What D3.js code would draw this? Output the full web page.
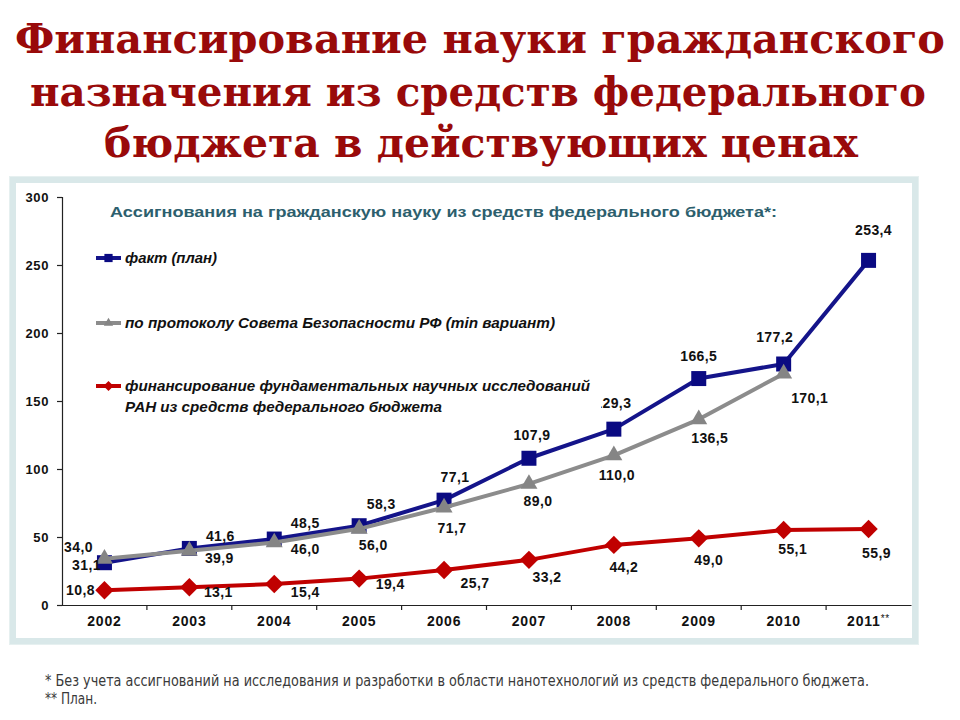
<!DOCTYPE html>
<html><head><meta charset="utf-8">
<script src="https://cdn.jsdelivr.net/npm/d3@7"></script>
<style>
html,body{margin:0;padding:0;background:#fff;}
svg{display:block;}
</style></head>
<body>
<svg id="c" width="960" height="720"></svg>
<script>
// ---- data ----
const years = ["2002","2003","2004","2005","2006","2007","2008","2009","2010","2011"];
const yearLabels = ["2002","2003","2004","2005","2006","2007","2008","2009","2010","2011**"];
const factPlan = [31.1, 41.6, 48.5, 58.3, 77.1, 107.9, 129.3, 166.5, 177.2, 253.4];
const securityCouncil = [34.0, 39.9, 46.0, 56.0, 71.7, 89.0, 110.0, 136.5, 170.1, null];
const ranFunding = [10.8, 13.1, 15.4, 19.4, 25.7, 33.2, 44.2, 49.0, 55.1, 55.9];
const yTicks = [0, 50, 100, 150, 200, 250, 300];
const seriesNames = ["факт (план)", "по протоколу  Совета Безопасности  РФ (min вариант)", "финансирование  фундаментальных  научных  исследований"];
const seriesName3b = "РАН из средств  федерального  бюджета";
const titleLines = ["Финансирование науки гражданского", "назначения из средств федерального", "бюджета в действующих ценах"];
const subtitle = "Ассигнования на гражданскую науку из средств федерального бюджета*:";
const notes = ["*  Без учета ассигнований на исследования и разработки в области нанотехнологий  из средств федерального  бюджета.", "** План."];

// ---- drawing ----
const svg = d3.select("#c");
const fmt = v => d3.format(".1f")(v).replace(".", ",");

// title
const titleLayout = [{x0:15,x1:945,y:53},{x0:30,x1:926,y:106},{x0:104,x1:858,y:157}];
svg.append("g").selectAll("text").data(titleLines).join("text")
  .attr("x", (d,i)=>titleLayout[i].x0)
  .attr("y", (d,i)=>titleLayout[i].y)
  .attr("textLength", (d,i)=>titleLayout[i].x1-titleLayout[i].x0)
  .attr("lengthAdjust","spacingAndGlyphs")
  .attr("font-family","'DejaVu Serif', 'Liberation Serif', serif")
  .attr("font-weight","bold")
  .attr("font-size",41)
  .attr("fill","#990a0a")
  .text(d=>d);

// panel
svg.append("rect").attr("x",9).attr("y",176).attr("width",910).attr("height",469).attr("fill","#e6f0f0");
svg.append("rect").attr("x",10).attr("y",177).attr("width",908).attr("height",467).attr("fill","#d9e8e9");
svg.append("rect").attr("x",16).attr("y",183).attr("width",896).attr("height",455).attr("fill","#ffffff");

const x = d3.scaleBand().domain(years).range([62, 911]);
const y = d3.scaleLinear().domain([0, 300]).range([605, 197]);
const cx = d => x(d) + x.bandwidth()/2;

// y axis
const yAxis = svg.append("g").attr("transform","translate(62,0)")
  .call(d3.axisLeft(y).tickValues(yTicks).tickSize(5).tickPadding(8).tickFormat(d3.format("d")));
yAxis.select(".domain").attr("stroke","#222").attr("stroke-width",1.2);
yAxis.selectAll(".tick line").attr("stroke","#222").attr("stroke-width",1.2);
yAxis.selectAll("text").attr("font-family","'Liberation Sans', Arial, sans-serif")
  .attr("font-weight","bold").attr("font-size",13).attr("fill","#111").attr("letter-spacing","0.6");

// x axis
const xAxis = svg.append("g").attr("transform","translate(0,605)")
  .call(d3.axisBottom(x).tickSize(0).tickPadding(11).tickFormat((d,i)=>yearLabels[i]));
xAxis.select(".domain").attr("stroke","#222").attr("stroke-width",1.2);
xAxis.selectAll("text").attr("font-family","'Liberation Sans', Arial, sans-serif")
  .attr("font-weight","bold").attr("font-size",14).attr("fill","#111").attr("letter-spacing","0.8");
xAxis.selectAll(".tick text").each(function(d,i){
  if (yearLabels[i].includes("**")) {
    const t = d3.select(this); t.text(null);
    t.append("tspan").text(years[i]);
    t.append("tspan").attr("font-size",10).attr("font-weight","normal").attr("dy",-4).text("**");
  }
});
svg.append("g").selectAll("line").data(years.slice(1)).join("line")
  .attr("x1", d=>x(d)).attr("x2", d=>x(d)).attr("y1",605).attr("y2",610)
  .attr("stroke","#222").attr("stroke-width",1.2);

// series
const series = [
  {name:"fact", values:factPlan, color:"#14148a", mcolor:"#0a0a82", symbol:d3.symbolSquare, size:225, rot:0},
  {name:"sec", values:securityCouncil, color:"#8c8c8c", mcolor:"#858585", symbol:d3.symbolTriangle, size:125, rot:0},
  {name:"ran", values:ranFunding, color:"#c00000", mcolor:"#c00000", symbol:d3.symbolSquare, size:170, rot:45}
];
const line = d3.line().defined(d=>d.v!=null).x(d=>cx(d.year)).y(d=>y(d.v));
const gLines = svg.append("g");
series.forEach(s=>{
  const pts = years.map((yr,i)=>({year:yr, v:s.values[i]}));
  const g = gLines.append("g");
  g.append("path").datum(pts).attr("d", line).attr("fill","none")
    .attr("stroke", s.color).attr("stroke-width",4).attr("stroke-linejoin","round");
  g.selectAll("path.m").data(pts.filter(p=>p.v!=null)).join("path").attr("class","m")
    .attr("d", d3.symbol().type(s.symbol).size(s.size)())
    .attr("transform", d=>`translate(${cx(d.year)},${y(d.v)}) rotate(${s.rot})`)
    .attr("fill", s.mcolor);
});

// value labels (offsets from each point)
const labelOffsets = {
  fact: [[-18,2],[31,-12],[31,-16],[22,-22],[11,-23],[3,-23],[-1,-26],[0,-23],[-9,-27],[5,-30]],
  sec:  [[-26,-12],[30,7],[31,7],[14,16],[8,20],[9,17],[3,20],[11,19],[26,24],null],
  ran:  [[-24,0],[29,5],[31,8],[31,5],[31,13],[18,17],[10,22],[10,22],[9,19],[8,24]]
};
const gLab = svg.append("g");
series.forEach(s=>{
  s.values.forEach((v,i)=>{
    if (v==null) return;
    const o = labelOffsets[s.name][i];
    gLab.append("text")
      .attr("x", cx(years[i]) + o[0])
      .attr("y", y(v) + o[1])
      .attr("dy","0.36em")
      .attr("text-anchor","middle")
      .attr("font-family","'Liberation Sans', Arial, sans-serif")
      .attr("font-weight","bold").attr("font-size",14).attr("letter-spacing","0.4")
      .attr("fill","#111")
      .text(fmt(v));
  });
});

// legend (white box hides what is under it)
svg.append("rect").attr("x",90).attr("y",240).attr("width",511).attr("height",176).attr("fill","#fff");
const legY = [258, 323, 386];
const leg = svg.append("g");
series.forEach((s,i)=>{
  leg.append("line").attr("x1",96).attr("x2",121).attr("y1",legY[i]).attr("y2",legY[i])
    .attr("stroke", s.color).attr("stroke-width",4);
  leg.append("path").attr("d", d3.symbol().type(s.symbol).size(s.size*0.3)())
    .attr("transform",`translate(108.5,${legY[i]}) rotate(${s.rot})`).attr("fill", s.mcolor);
});
const legText = [
  {t:seriesNames[0], x0:125, x1:217, y:legY[0]},
  {t:seriesNames[1], x0:125, x1:555, y:legY[1]},
  {t:seriesNames[2], x0:125, x1:590, y:legY[2]},
  {t:seriesName3b, x0:125, x1:442, y:legY[2]+21}
];
leg.selectAll("text").data(legText).join("text")
  .attr("x", d=>d.x0).attr("y", d=>d.y).attr("dy","0.36em")
  .attr("textLength", d=>d.x1-d.x0).attr("lengthAdjust","spacingAndGlyphs")
  .attr("font-family","'Liberation Sans', Arial, sans-serif")
  .attr("font-weight","bold").attr("font-style","italic").attr("font-size",14)
  .attr("fill","#111")
  .text(d=>d.t);

// subtitle
svg.append("text").attr("x",110).attr("y",212).attr("dy","0.36em")
  .attr("textLength",667).attr("lengthAdjust","spacingAndGlyphs")
  .attr("font-family","'Liberation Sans', Arial, sans-serif")
  .attr("font-weight","bold").attr("font-size",15).attr("fill","#2d5f6e")
  .text(subtitle);

// footnotes
const noteLayout = [{x0:45,x1:869,y:681},{x0:45,x1:97,y:699}];
svg.append("g").selectAll("text").data(notes).join("text")
  .attr("x",(d,i)=>noteLayout[i].x0).attr("y",(d,i)=>noteLayout[i].y).attr("dy","0.36em")
  .attr("textLength",(d,i)=>noteLayout[i].x1-noteLayout[i].x0).attr("lengthAdjust","spacingAndGlyphs")
  .attr("font-family","'Liberation Sans Narrow', 'DejaVu Sans Condensed', 'Liberation Sans', sans-serif")
  .attr("font-size",15).attr("fill","#3a3a3a")
  .text(d=>d);
</script>
</body></html>
